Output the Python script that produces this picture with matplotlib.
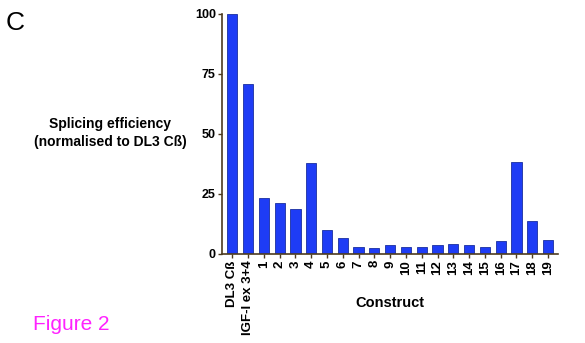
import numpy as np
import matplotlib.pyplot as plt

plt.rcParams['font.family'] = ['Liberation Sans', 'DejaVu Sans']

# constructs and their splicing efficiency (% of DL3 Cß)
constructs = ['DL3 Cß', 'IGF-I ex 3+4'] + [str(i) for i in range(1, 20)]
efficiency = [100, 70.7, 23.4, 21.3, 18.8, 37.7, 10.1, 6.5, 3.0, 2.4, 3.6,
              2.9, 2.9, 3.9, 4.3, 3.9, 3.0, 5.3, 38.1, 13.6, 5.8]
yticks = [0, 25, 50, 75, 100]

fig = plt.figure(figsize=(5.85, 3.43), dpi=100)
ax = fig.add_axes([0.3795, 0.2595, 0.5735, 0.701])

x = np.arange(len(constructs))
ax.bar(x, efficiency, width=0.65, color='#1e3cf5', edgecolor='#1a2fa0', linewidth=0.6)

ax.set_xlim(-0.65, len(constructs) - 0.4)
ax.set_ylim(0, 100)
ax.set_xticks(x)
ax.set_xticklabels(constructs, rotation=90, fontsize=9.5, fontweight='bold')
ax.set_yticks(yticks)
ax.set_yticklabels([str(t) for t in yticks], fontsize=9, fontweight='bold')
ax.tick_params(axis='both', length=3, width=1, color='#4d3b1f', pad=1.5)

for s in ['top', 'right']:
    ax.spines[s].set_visible(False)
for s in ['left', 'bottom']:
    ax.spines[s].set_color('#4d3b1f')
    ax.spines[s].set_linewidth(1.2)

fig.text(110 / 585, 1 - 133 / 343, 'Splicing efficiency\n(normalised to DL3 Cß)',
         ha='center', va='center', fontsize=10, fontweight='bold', linespacing=1.3)
fig.text(390 / 585, 1 - 303 / 343, 'Construct', ha='center', va='center',
         fontsize=10.5, fontweight='bold')
fig.text(6 / 585, 1 - 23 / 343, 'C', ha='left', va='center', fontsize=19)
fig.text(33 / 585, 1 - 325 / 343, 'Figure 2', ha='left', va='center',
         fontsize=15, color='#ff22ff')

fig.savefig('out.png', dpi=100)
